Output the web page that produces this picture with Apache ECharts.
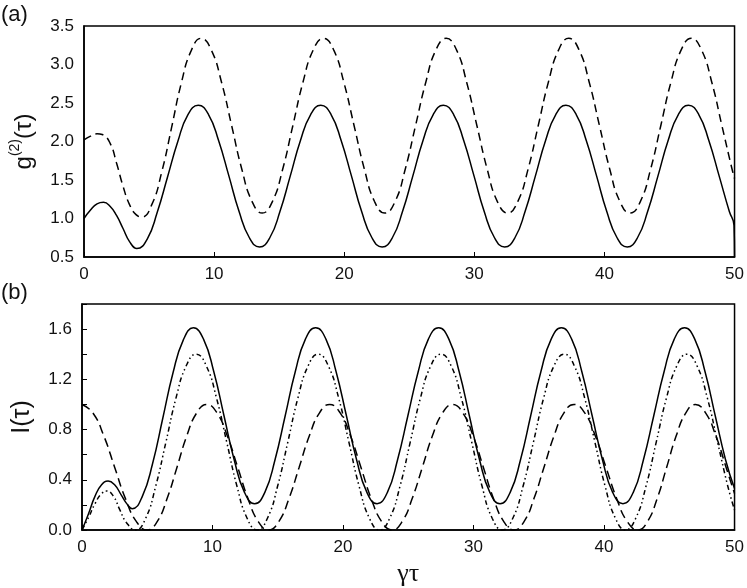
<!DOCTYPE html>
<html>
<head>
<meta charset="utf-8">
<script src="https://cdn.jsdelivr.net/npm/echarts@6/dist/echarts.min.js"></script>
<style>html,body{margin:0;padding:0;background:#fff;}#c{width:747px;height:588px;}</style>
</head>
<body>
<div id="c"></div>
<script>
// x ticks shared by both panels
const xTicks = [0, 10, 20, 30, 40, 50];
// Panel (a): g2(tau), solid and dashed
const g2Solid = [[0,1.00],[0.5,1.11],[1.0,1.19],[1.5,1.21],[2.0,1.16],[2.5,1.04],[3.0,0.87],[3.5,0.70],[4.06,0.61],
 [4.85,0.73],[5.63,1.08],[6.42,1.54],[7.21,2.00],[7.99,2.35],[8.78,2.47],
 [9.57,2.35],[10.35,2.01],[11.14,1.55],[11.92,1.09],[12.71,0.75],[13.49,0.63],
 [14.28,0.75],[15.06,1.09],[15.85,1.55],[16.63,2.01],[17.42,2.35],[18.20,2.47],
 [18.99,2.35],[19.77,2.01],[20.56,1.55],[21.34,1.09],[22.13,0.75],[22.91,0.63],
 [23.70,0.75],[24.48,1.09],[25.27,1.55],[26.05,2.01],[26.84,2.35],[27.62,2.47],
 [28.41,2.35],[29.19,2.01],[29.98,1.55],[30.76,1.09],[31.55,0.75],[32.33,0.63],
 [33.12,0.75],[33.90,1.09],[34.69,1.55],[35.47,2.01],[36.26,2.35],[37.04,2.47],
 [37.83,2.35],[38.61,2.01],[39.40,1.55],[40.18,1.09],[40.97,0.75],[41.75,0.63],
 [42.54,0.75],[43.32,1.09],[44.11,1.55],[44.89,2.01],[45.68,2.35],[46.46,2.47],
 [47.25,2.35],[48.03,2.01],[48.82,1.55],[49.60,1.09],[49.96,0.91],[50,0.5]];
const g2Dashed = [[0,2.02],[0.5,2.07],[1.0,2.10],[1.4,2.09],[2.0,1.98],[2.5,1.72],[3.0,1.42],[3.5,1.18],[4.0,1.05],[4.45,1.02],
 [5.21,1.18],[5.97,1.60],[6.73,2.18],[7.48,2.76],[8.24,3.18],[9.00,3.34],
 [9.78,3.19],[10.57,2.77],[11.35,2.205],[12.13,1.64],[12.92,1.22],[13.70,1.07],
 [14.48,1.22],[15.27,1.64],[16.05,2.205],[16.83,2.77],[17.62,3.19],[18.40,3.34],
 [19.19,3.19],[19.97,2.77],[20.76,2.205],[21.55,1.64],[22.33,1.22],[23.12,1.07],
 [23.91,1.22],[24.69,1.64],[25.48,2.205],[26.27,2.77],[27.05,3.19],[27.84,3.34],
 [28.63,3.19],[29.41,2.77],[30.20,2.205],[30.99,1.64],[31.77,1.22],[32.56,1.07],
 [33.34,1.22],[34.13,1.64],[34.91,2.205],[35.69,2.77],[36.48,3.19],[37.26,3.34],
 [38.05,3.19],[38.83,2.77],[39.62,2.205],[40.41,1.64],[41.19,1.22],[41.98,1.07],
 [42.76,1.22],[43.55,1.64],[44.33,2.205],[45.11,2.77],[45.90,3.19],[46.68,3.34],
 [47.46,3.19],[48.25,2.77],[49.03,2.205],[49.81,1.64],[50,1.52]];
// Panel (b): I(tau), solid, dash-dot-dot and dashed
const iSolid = [[0,0],[0.5,0.13],[1.0,0.27],[1.5,0.36],[2.0,0.39],[2.5,0.36],[3.0,0.28],[3.5,0.20],[3.85,0.17],
 [4.63,0.27],[5.41,0.53],[6.19,0.89],[6.97,1.25],[7.75,1.51],[8.53,1.61],
 [9.31,1.52],[10.10,1.26],[10.88,0.91],[11.66,0.56],[12.45,0.30],[13.23,0.21],
 [14.01,0.30],[14.79,0.56],[15.57,0.91],[16.34,1.26],[17.12,1.52],[17.90,1.61],
 [18.69,1.52],[19.47,1.26],[20.26,0.91],[21.04,0.56],[21.83,0.30],[22.61,0.21],
 [23.40,0.30],[24.18,0.56],[24.97,0.91],[25.76,1.26],[26.54,1.52],[27.33,1.61],
 [28.11,1.52],[28.90,1.26],[29.68,0.91],[30.46,0.56],[31.25,0.30],[32.03,0.21],
 [32.81,0.30],[33.60,0.56],[34.38,0.91],[35.16,1.26],[35.95,1.52],[36.73,1.61],
 [37.52,1.52],[38.30,1.26],[39.09,0.91],[39.88,0.56],[40.66,0.30],[41.45,0.21],
 [42.24,0.30],[43.02,0.56],[43.81,0.91],[44.60,1.26],[45.38,1.52],[46.17,1.61],
 [46.95,1.52],[47.74,1.26],[48.52,0.91],[49.31,0.56],[50,0.33]];
const iDashDot = [[0,0],[0.5,0.10],[1.0,0.21],[1.5,0.29],[1.9,0.31],[2.4,0.27],[2.9,0.16],[3.4,0.06],[4.1,0.0],
 [4.88,0.094],[5.65,0.35],[6.43,0.70],[7.20,1.05],[7.98,1.306],[8.75,1.40],
 [9.53,1.306],[10.31,1.05],[11.09,0.70],[11.87,0.35],[12.65,0.094],[13.43,0.0],
 [14.21,0.094],[14.99,0.35],[15.77,0.70],[16.54,1.05],[17.32,1.306],[18.10,1.40],
 [18.88,1.306],[19.67,1.05],[20.45,0.70],[21.23,0.35],[22.02,0.094],[22.80,0.0],
 [23.58,0.094],[24.37,0.35],[25.15,0.70],[25.93,1.05],[26.72,1.306],[27.50,1.40],
 [28.29,1.306],[29.07,1.05],[29.86,0.70],[30.65,0.35],[31.43,0.094],[32.22,0.0],
 [33.01,0.094],[33.80,0.35],[34.59,0.70],[35.37,1.05],[36.16,1.306],[36.95,1.40],
 [37.73,1.306],[38.52,1.05],[39.30,0.70],[40.08,0.35],[40.87,0.094],[41.65,0.0],
 [42.43,0.094],[43.22,0.35],[44.00,0.70],[44.78,1.05],[45.57,1.306],[46.35,1.40],
 [47.13,1.306],[47.92,1.05],[48.70,0.70],[49.48,0.35],[50,0.16]];
const iDashed = [[0,1.0],[0.83,0.933],[1.67,0.75],[2.5,0.5],[3.33,0.25],[4.17,0.067],[5.0,0.0],
 [5.76,0.067],[6.52,0.25],[7.28,0.5],[8.03,0.75],[8.79,0.933],[9.55,1.0],
 [10.34,0.933],[11.13,0.75],[11.93,0.5],[12.72,0.25],[13.51,0.067],[14.30,0.0],
 [15.08,0.067],[15.86,0.25],[16.64,0.5],[17.42,0.75],[18.20,0.933],[18.98,1.0],
 [19.78,0.933],[20.57,0.75],[21.37,0.5],[22.16,0.25],[22.96,0.067],[23.75,0.0],
 [24.53,0.067],[25.30,0.25],[26.08,0.5],[26.85,0.75],[27.63,0.933],[28.40,1.0],
 [29.18,0.933],[29.97,0.75],[30.75,0.5],[31.53,0.25],[32.32,0.067],[33.10,0.0],
 [33.87,0.067],[34.63,0.25],[35.40,0.5],[36.17,0.75],[36.93,0.933],[37.70,1.0],
 [38.52,0.933],[39.33,0.75],[40.15,0.5],[40.97,0.25],[41.78,0.067],[42.60,0.0],
 [43.33,0.067],[44.07,0.25],[44.80,0.5],[45.53,0.75],[46.27,0.933],[47.00,1.0],
 [47.78,0.933],[48.57,0.75],[49.35,0.5],[50,0.29]];

const FONT = 'Liberation Sans, Arial, sans-serif';
const TXT = '#111';
const chart = echarts.init(document.getElementById('c'));
function xAx(idx, name) {
  return {
    type: 'value', gridIndex: idx, min: 0, max: 50, interval: 10,
    axisLine: {show: true, onZero: false, lineStyle: {color: '#000', width: 1.5}},
    axisTick: {show: true, inside: true, length: 5, lineStyle: {color: '#000', width: 1}},
    axisLabel: {color: TXT, fontSize: 17, fontFamily: FONT, margin: 9,
      formatter: v => xTicks.includes(v) ? String(v) : ''},
    splitLine: {show: false},
    name: name, nameLocation: 'middle', nameGap: 31,
    nameTextStyle: {color: TXT, fontSize: 26, fontFamily: 'Liberation Serif, DejaVu Serif, serif'}
  };
}
const option = {
  animation: false,
  backgroundColor: '#fff',
  grid: [
    {left: 82, top: 26, width: 653, height: 231, show: true, borderColor: '#000', borderWidth: 1.5},
    {left: 82, top: 304, width: 653, height: 231, show: true, borderColor: '#000', borderWidth: 1.5}
  ],
  xAxis: [xAx(0, ''), xAx(1, 'γτ')],
  yAxis: [
    {type: 'value', gridIndex: 0, min: 0.5, max: 3.5, interval: 0.5,
     axisLine: {show: true, lineStyle: {color: '#000', width: 1.5}},
     axisTick: {show: false},
     axisLabel: {color: TXT, fontSize: 17, fontFamily: FONT, margin: 10, formatter: v => v.toFixed(1)},
     splitLine: {show: false},
     name: '{n|g}{s|(2)}{n|(τ)}', nameLocation: 'middle', nameGap: 48, nameRotate: 90,
     nameTextStyle: {color: TXT, fontFamily: FONT, rich: {
       n: {fontSize: 24, fontFamily: FONT, color: TXT, verticalAlign: 'bottom', lineHeight: 28},
       s: {fontSize: 14, fontFamily: FONT, color: TXT, verticalAlign: 'top', lineHeight: 28}
     }}},
    {type: 'value', gridIndex: 1, min: 0, max: 1.8, interval: 0.2,
     axisLine: {show: true, lineStyle: {color: '#000', width: 1.5}},
     axisTick: {show: true, inside: true, length: 5, lineStyle: {color: '#000', width: 1}},
     axisLabel: {color: TXT, fontSize: 17, fontFamily: FONT, margin: 10,
       formatter: v => { const r = Math.round(v * 10); return (r % 4 === 0 && r < 18) ? v.toFixed(1) : ''; }},
     splitLine: {show: false},
     name: 'I(τ)', nameLocation: 'middle', nameGap: 47, nameRotate: 90,
     nameTextStyle: {color: TXT, fontSize: 25, fontFamily: FONT}}
  ],
  graphic: [
    {type: 'text', left: 1, top: 4, style: {text: '(a)', font: '22px Liberation Sans, Arial, sans-serif', fill: TXT}},
    {type: 'text', left: 1, top: 282, style: {text: '(b)', font: '22px Liberation Sans, Arial, sans-serif', fill: TXT}}
  ],
  series: [
    {type: 'line', xAxisIndex: 0, yAxisIndex: 0, data: g2Solid, showSymbol: false, smooth: true,
     lineStyle: {color: '#000', width: 1.5}},
    {type: 'line', xAxisIndex: 0, yAxisIndex: 0, data: g2Dashed, showSymbol: false, smooth: true,
     lineStyle: {color: '#000', width: 1.5, type: [8, 5]}},
    {type: 'line', xAxisIndex: 1, yAxisIndex: 1, data: iSolid, showSymbol: false, smooth: true,
     lineStyle: {color: '#000', width: 1.5}},
    {type: 'line', xAxisIndex: 1, yAxisIndex: 1, data: iDashDot, showSymbol: false, smooth: true,
     lineStyle: {color: '#000', width: 1.5, type: [5, 3, 1.5, 3, 1.5, 3]}},
    {type: 'line', xAxisIndex: 1, yAxisIndex: 1, data: iDashed, showSymbol: false, smooth: true,
     lineStyle: {color: '#000', width: 1.5, type: [9, 5]}}
  ]
};
chart.setOption(option);
</script>
</body>
</html>
